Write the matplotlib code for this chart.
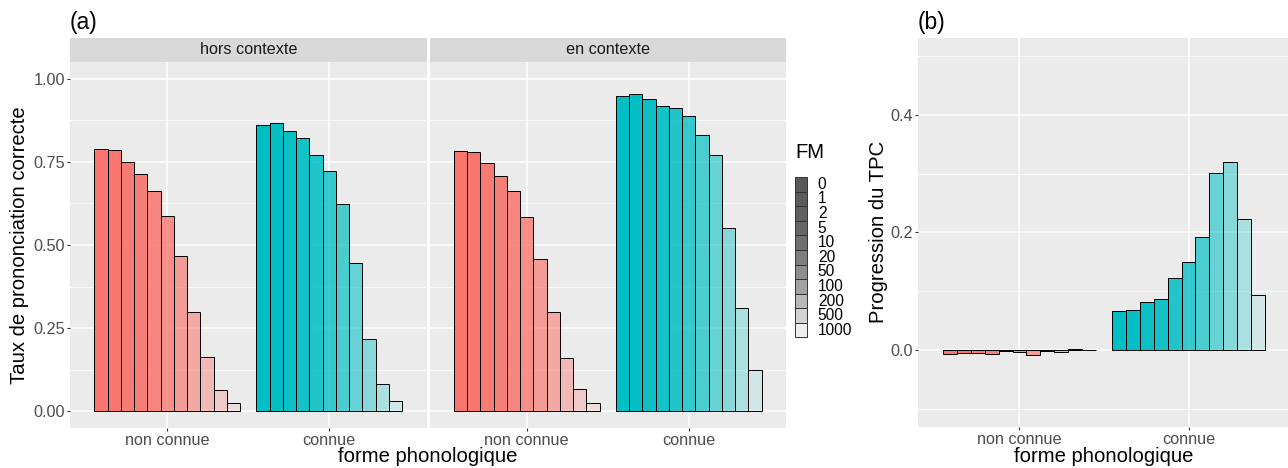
import numpy as np
import matplotlib.pyplot as plt

plt.rcParams['font.family'] = ['Liberation Sans', 'DejaVu Sans']

# FM levels (legend) and categories
fm_levels = ['0', '1', '2', '5', '10', '20', '50', '100', '200', '500', '1000']
forms = ['non connue', 'connue']
contexts = ['hors contexte', 'en contexte']

# (a) taux de prononciation correcte
tpc_hors_non = [0.788, 0.785, 0.749, 0.712, 0.662, 0.587, 0.467, 0.300, 0.163, 0.065, 0.026]
tpc_hors_con = [0.861, 0.867, 0.843, 0.821, 0.770, 0.723, 0.622, 0.447, 0.218, 0.082, 0.030]
tpc_en_non = [0.783, 0.781, 0.745, 0.707, 0.661, 0.584, 0.459, 0.298, 0.160, 0.066, 0.025]
tpc_en_con = [0.947, 0.953, 0.939, 0.919, 0.911, 0.889, 0.832, 0.769, 0.552, 0.312, 0.124]

# (b) progression du TPC
prog_non = [-0.006, -0.004, -0.004, -0.006, -0.001, -0.002, -0.008, -0.0005, -0.002, 0.002, 0.0005]
prog_con = [0.066, 0.068, 0.082, 0.088, 0.122, 0.150, 0.192, 0.301, 0.319, 0.223, 0.094]

colors = {'non connue': '#F8766D', 'connue': '#00BFC4'}
# alpha per FM level (dark for 0, almost transparent for 1000)
alphas = [1.0, 0.99, 0.96, 0.92, 0.86, 0.78, 0.68, 0.56, 0.42, 0.27, 0.1]

W, H = 1288, 468
fig = plt.figure(figsize=(W / 100, H / 100), dpi=100)


def box(x0, y0, x1, y1):
    # pixel box (top-left origin) -> figure fraction
    return [x0 / W, 1 - y1 / H, (x1 - x0) / W, (y1 - y0) / H]


def style(ax, ylim, major, minor, show_y=True):
    ax.set_facecolor('#EBEBEB')
    for s in ax.spines.values():
        s.set_visible(False)
    ax.set_xlim(0.4, 2.6)
    ax.set_ylim(*ylim)
    ax.set_xticks([1, 2])
    ax.set_xticklabels(forms)
    ax.set_yticks(major)
    ax.set_yticks(minor, minor=True)
    ax.grid(True, which='major', color='white', lw=1.1)
    ax.grid(True, which='minor', axis='y', color='white', lw=0.55)
    ax.set_axisbelow(True)
    ax.tick_params(which='major', length=2.2, width=0.8, color='#333333',
                   labelcolor='#4D4D4D', labelsize=11.7, pad=1.5)
    ax.tick_params(which='minor', length=0)
    if not show_y:
        ax.tick_params(axis='y', length=0, labelleft=False)


def draw_group(ax, values, center, color):
    w = 0.9 / len(values)
    xs = center - 0.45 + w * (np.arange(len(values)) + 0.5)
    for x, v, a in zip(xs, values, alphas):
        ax.bar(x, v, width=w, color=color, alpha=a, edgecolor='none', zorder=2)
        ax.bar(x, v, width=w, fill=False, edgecolor='black', lw=0.7, zorder=3)


# ---- panel (a): two facets
facet_px = [(70, 426.5), (429.5, 786)]
data_a = {'hors contexte': [tpc_hors_non, tpc_hors_con],
          'en contexte': [tpc_en_non, tpc_en_con]}
for i, (ctx, (x0, x1)) in enumerate(zip(contexts, facet_px)):
    ax = fig.add_axes(box(x0, 62, x1, 428))
    style(ax, (-0.05, 1.05), [0, 0.25, 0.5, 0.75, 1.0],
          [0.125, 0.375, 0.625, 0.875], show_y=(i == 0))
    if i == 0:
        ax.set_yticklabels(['0.00', '0.25', '0.50', '0.75', '1.00'])
    for j, f in enumerate(forms):
        draw_group(ax, data_a[ctx][j], j + 1, colors[f])
    # strip
    st = fig.add_axes(box(x0, 38, x1, 61.5))
    st.set_facecolor('#D9D9D9')
    st.set_xticks([])
    st.set_yticks([])
    for s in st.spines.values():
        s.set_visible(False)
    st.text(0.5, 0.5, ctx, ha='center', va='center', fontsize=11.7, color='#1A1A1A',
            transform=st.transAxes)

fig.text(20 / W, 1 - 245 / H, 'Taux de prononciation correcte', rotation=90,
         ha='center', va='center', fontsize=14.6)
fig.text(428 / W, 1 - 457 / H, 'forme phonologique', ha='center', va='center', fontsize=14.6)
fig.text(70 / W, 1 - 22 / H, '(a)', ha='left', va='center', fontsize=16.5)

# ---- panel (b)
axb = fig.add_axes(box(918, 38, 1290, 427))
style(axb, (-0.13, 0.53), [0.0, 0.2, 0.4], [-0.1, 0.1, 0.3, 0.5])
axb.set_yticklabels(['0.0', '0.2', '0.4'])
draw_group(axb, prog_non, 1, colors['non connue'])
draw_group(axb, prog_con, 2, colors['connue'])
fig.text(878 / W, 1 - 232 / H, 'Progression du TPC', rotation=90,
         ha='center', va='center', fontsize=14.6)
fig.text(1104 / W, 1 - 457 / H, 'forme phonologique', ha='center', va='center', fontsize=14.6)
fig.text(918 / W, 1 - 22 / H, '(b)', ha='left', va='center', fontsize=16.5)

# ---- legend (FM alpha scale), keys stacked like ggplot
lg = fig.add_axes(box(795, 177, 870, 337.5))
lg.set_xlim(0, 75 / 12)
lg.set_ylim(len(fm_levels), 0)
lg.axis('off')
for k, (lab, a) in enumerate(zip(fm_levels, alphas)):
    lg.bar(0.5, 1, bottom=k, width=1, color=(0.35, 0.35, 0.35, a),
           edgecolor='#333333', lw=0.7)
    lg.text(1.9, k + 0.5, lab, ha='left', va='center', fontsize=11.2, color='black')
fig.text(795 / W, 1 - 152 / H, 'FM', ha='left', va='center', fontsize=14.6)

fig.savefig('out.png', dpi=100)
